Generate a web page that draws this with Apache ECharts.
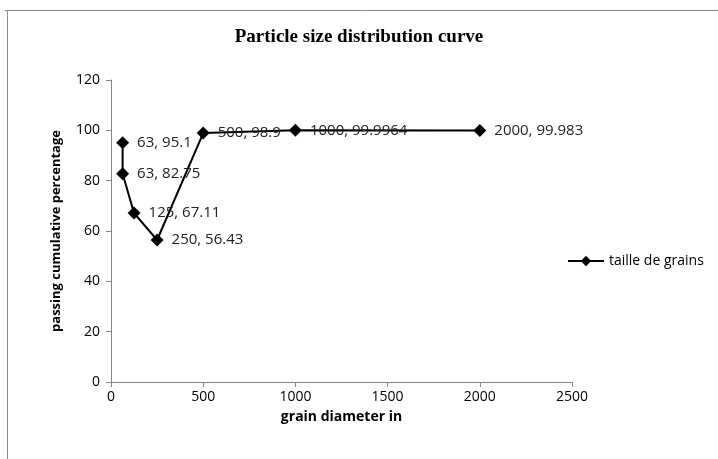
<!DOCTYPE html>
<html>
<head>
<meta charset="utf-8">
<script src="https://cdn.jsdelivr.net/npm/echarts@6/dist/echarts.min.js"></script>
<style>
  html, body { margin: 0; padding: 0; background: #fff; }
  #chart { width: 718px; height: 459px; }
</style>
</head>
<body>
<div id="chart"></div>
<script>
// grain diameter vs passing percentage
var diameters = [63, 63, 125, 250, 500, 1000, 2000];
var passing = [95.1, 82.75, 67.11, 56.43, 98.9, 99.9964, 99.983];
var seriesName = "taille de grains";

var points = diameters.map(function (d, i) { return [d, passing[i]]; });
var labelFont = "'Open Sans', 'Noto Sans', sans-serif";

var myChart = echarts.init(document.getElementById("chart"));
myChart.setOption({
	animation: false,
	title: {
		text: "Particle size distribution curve",
		left: "center",
		top: 23,
		textStyle: { fontFamily: "'Liberation Serif', serif", fontWeight: "bold", fontSize: 19, color: "#000" }
	},
	graphic: [
		{ type: "line", shape: { x1: 5, y1: 10.5, x2: 718, y2: 10.5 }, style: { stroke: "#8a8a8a", lineWidth: 1 } },
		{ type: "line", shape: { x1: 7.5, y1: 10, x2: 7.5, y2: 459 }, style: { stroke: "#8a8a8a", lineWidth: 1 } }
	],
	legend: {
		data: [seriesName],
		left: 562,
		top: 249,
		itemWidth: 36,
		itemHeight: 13,
		itemGap: 4,
		textStyle: { fontFamily: labelFont, fontSize: 14, color: "#000" }
	},
	grid: { left: 111, right: 146, top: 80, bottom: 77 },
	xAxis: {
		type: "value",
		min: 0,
		max: 2500,
		interval: 500,
		name: "grain diameter in",
		nameLocation: "middle",
		nameGap: 28,
		nameTextStyle: { fontFamily: labelFont, fontWeight: "bold", fontSize: 14, color: "#000" },
		axisLine: { lineStyle: { color: "#868686" } },
		axisTick: { show: true, length: 5, lineStyle: { color: "#868686" } },
		axisLabel: {
			fontFamily: labelFont, fontSize: 14, color: "#000", margin: 8,
			formatter: function (v) { return String(v); }
		},
		splitLine: { show: false }
	},
	yAxis: {
		type: "value",
		min: 0,
		max: 120,
		interval: 20,
		name: "passing cumulative percentage",
		nameLocation: "middle",
		nameGap: 48,
		nameTextStyle: { fontFamily: labelFont, fontWeight: "bold", fontSize: 13, color: "#000" },
		axisLine: { show: true, lineStyle: { color: "#868686" } },
		axisTick: { show: true, length: 5, lineStyle: { color: "#868686" } },
		axisLabel: { fontFamily: labelFont, fontSize: 14, color: "#000", margin: 11 },
		splitLine: { show: false }
	},
	series: [
		{
			name: seriesName,
			type: "line",
			data: points,
			symbol: "diamond",
			symbolSize: 13,
			lineStyle: { color: "#000", width: 2 },
			itemStyle: { color: "#000" },
			label: {
				show: true,
				position: "right",
				distance: 8,
				fontFamily: labelFont,
				fontSize: 15,
				color: "#222",
				formatter: function (p) { return p.value[0] + ", " + p.value[1]; }
			}
		}
	]
});
</script>
</body>
</html>
